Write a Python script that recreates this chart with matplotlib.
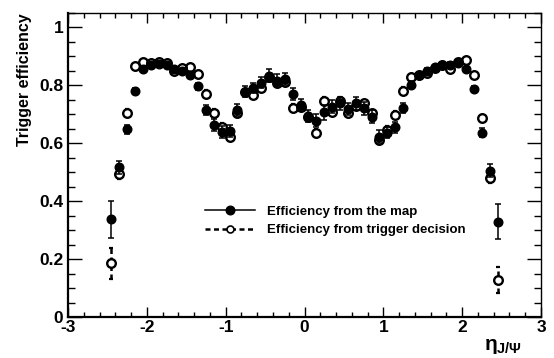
import matplotlib

matplotlib.use('Agg')
from matplotlib import pyplot as plt
from matplotlib.lines import Line2D
from matplotlib.ticker import MultipleLocator, FuncFormatter

# eta bin centres (0.1 wide bins)
eta = [-2.45, -2.35, -2.25, -2.15, -2.05, -1.95, -1.85, -1.75, -1.65, -1.55,
       -1.45, -1.35, -1.25, -1.15, -1.05, -0.95, -0.85, -0.75, -0.65, -0.55,
       -0.45, -0.35, -0.25, -0.15, -0.05, 0.05, 0.15, 0.25, 0.35, 0.45,
       0.55, 0.65, 0.75, 0.85, 0.95, 1.05, 1.15, 1.25, 1.35, 1.45,
       1.55, 1.65, 1.75, 1.85, 1.95, 2.05, 2.15, 2.25, 2.35, 2.45]

# efficiency from the map (filled)
eff_map = [0.337, 0.516, 0.647, 0.780, 0.854, 0.869, 0.871, 0.869, 0.854, 0.847,
           0.834, 0.796, 0.714, 0.662, 0.638, 0.641, 0.714, 0.777, 0.790, 0.808,
           0.832, 0.815, 0.821, 0.768, 0.731, 0.694, 0.677, 0.706, 0.725, 0.737,
           0.717, 0.737, 0.720, 0.691, 0.622, 0.636, 0.654, 0.721, 0.801, 0.833,
           0.848, 0.861, 0.868, 0.870, 0.875, 0.854, 0.785, 0.636, 0.505, 0.329]
err_map = [0.064, 0.022, 0.016, 0.010, 0.008, 0.008, 0.008, 0.008, 0.009, 0.009,
           0.010, 0.012, 0.018, 0.020, 0.022, 0.022, 0.020, 0.018, 0.018, 0.020,
           0.022, 0.022, 0.022, 0.020, 0.020, 0.020, 0.022, 0.025, 0.022, 0.022,
           0.022, 0.022, 0.022, 0.022, 0.022, 0.020, 0.020, 0.018, 0.012, 0.010,
           0.009, 0.008, 0.008, 0.008, 0.008, 0.008, 0.010, 0.016, 0.022, 0.060]

# efficiency from trigger decision (open)
eff_trig = [0.185, 0.493, 0.705, 0.866, 0.879, 0.877, 0.878, 0.876, 0.848, 0.858,
            0.862, 0.837, 0.770, 0.705, 0.655, 0.621, 0.704, 0.775, 0.766, 0.790,
            0.826, 0.806, 0.809, 0.721, 0.725, 0.691, 0.636, 0.745, 0.708, 0.746,
            0.702, 0.729, 0.737, 0.702, 0.610, 0.646, 0.696, 0.781, 0.828, 0.835,
            0.843, 0.860, 0.868, 0.855, 0.880, 0.886, 0.834, 0.685, 0.478, 0.128]
err_trig = [0.054, 0.016, 0.012, 0.007, 0.006, 0.006, 0.006, 0.006, 0.007, 0.007,
            0.008, 0.009, 0.012, 0.013, 0.014, 0.014, 0.013, 0.012, 0.012, 0.012,
            0.013, 0.013, 0.013, 0.013, 0.013, 0.013, 0.014, 0.014, 0.013, 0.013,
            0.013, 0.013, 0.013, 0.013, 0.014, 0.014, 0.013, 0.012, 0.009, 0.008,
            0.007, 0.006, 0.006, 0.006, 0.006, 0.006, 0.008, 0.012, 0.016, 0.044]

plt.rcParams['font.family'] = ['Liberation Sans', 'DejaVu Sans']
plt.rcParams['font.weight'] = 'bold'
plt.rcParams['mathtext.fontset'] = 'custom'
plt.rcParams['mathtext.rm'] = 'Liberation Sans:bold'
plt.rcParams['mathtext.it'] = 'Liberation Sans:bold'
plt.rcParams['mathtext.bf'] = 'Liberation Sans:bold'

fig = plt.figure(figsize=(5.54, 3.58), dpi=100)
ax = fig.add_axes([68 / 554, 41 / 358, 473 / 554, 304.5 / 358])

dash = (0, (2, 1.4))

# open points: dashed bars, white disk below the filled points, ring on top
e_trig = ax.errorbar(eta, eff_trig, yerr=err_trig, fmt='none', ecolor='black',
                     elinewidth=1.8, capsize=1.5, capthick=1.6, zorder=1)
for lc in e_trig[2]:
    lc.set_linestyle(dash)
ax.plot(eta, eff_trig, 'o', ms=6.2, mfc='white', mec='none', zorder=2)

ax.errorbar(eta, eff_map, yerr=err_map, fmt='o', color='black', ms=6.2,
            elinewidth=1.1, capsize=2.5, capthick=1.1, zorder=3)

ax.plot(eta, eff_trig, 'o', ms=6.2, mfc='none', mec='black', mew=1.7, zorder=4)

ax.set_xlim(-3, 3)
ax.set_ylim(0, 1.05)
ax.xaxis.set_major_locator(MultipleLocator(1))
ax.xaxis.set_minor_locator(MultipleLocator(0.2))
ax.yaxis.set_major_locator(MultipleLocator(0.2))
ax.yaxis.set_minor_locator(MultipleLocator(0.05))
fmt = FuncFormatter(lambda v, p: '%g' % v)
ax.xaxis.set_major_formatter(fmt)
ax.yaxis.set_major_formatter(fmt)

ax.tick_params(which='both', direction='in', top=True, right=True, width=1)
ax.tick_params(axis='x', which='major', length=7.2, labelsize=12.5, pad=2)
ax.tick_params(axis='x', which='minor', length=3.6)
ax.tick_params(axis='y', which='major', length=10, labelsize=12.5, pad=3.5)
ax.tick_params(axis='y', which='minor', length=5)
for s in ['bottom', 'left']:
    ax.spines[s].set_linewidth(1.6)
for s in ['top', 'right']:
    ax.spines[s].set_linewidth(1.0)

handles = [Line2D([], [], color='black', lw=1.1, marker='o', ms=6.2),
           Line2D([], [], color='black', lw=1.8, ls=dash, marker='o', ms=5,
                  mfc='white', mew=1.2)]
labels = ['Efficiency from the map', 'Efficiency from trigger decision']
ax.legend(handles, labels, loc='center left', bbox_to_anchor=(205 / 554, (358 - 221) / 358),
          bbox_transform=fig.transFigure, frameon=False, fontsize=9.5,
          handlelength=3.8, handletextpad=0.9, labelspacing=0.45,
          borderpad=0, borderaxespad=0)

fig.text(25 / 554, 1 - 13 / 358, 'Trigger efficiency', rotation=90, ha='center', va='top',
         fontsize=11.5, fontweight='bold')
fig.text(522 / 554, (358 - 350) / 358, r'$\eta_{J/\Psi}$', ha='right', va='baseline',
         fontsize=15)

plt.savefig('out.png', dpi=100)
plt.close('all')
